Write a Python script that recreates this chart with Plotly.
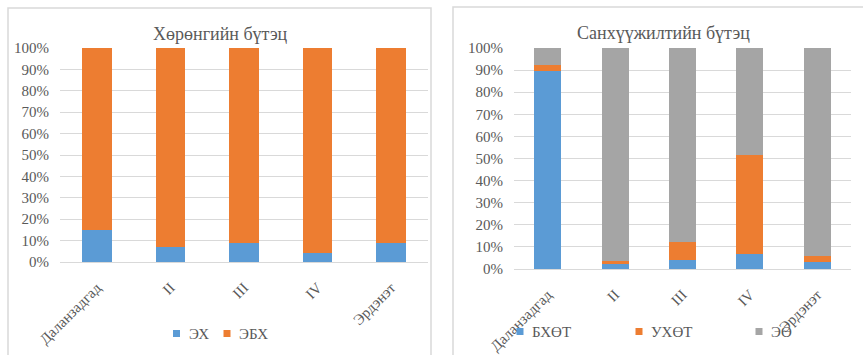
import plotly.graph_objects as go

W, H = 863, 355

categories = ["Даланзадгад", "II", "III", "IV", "Эрдэнэт"]

# Left chart: Хөрөнгийн бүтэц (shares)
left_names = ["ЭХ", "ЭБХ"]
eh = [0.148, 0.070, 0.087, 0.044, 0.090]
ebh = [0.852, 0.930, 0.913, 0.956, 0.910]

# Right chart: Санхүүжилтийн бүтэц (shares)
right_names = ["БХӨТ", "УХӨТ", "ЭӨ"]
bhot = [0.896, 0.024, 0.041, 0.070, 0.032]
uhot = [0.027, 0.012, 0.080, 0.446, 0.029]
eo = [0.077, 0.964, 0.879, 0.484, 0.939]

BLUE, ORANGE, GRAY = "#5B9BD5", "#ED7D31", "#A5A5A5"
FONT = "Liberation Serif"
TXT = "#595959"
GRID = "#D9D9D9"


def px(x):
    return x / W


def py(y):
    return 1 - y / H


fig = go.Figure()

for vals, name, col in [(eh, left_names[0], BLUE), (ebh, left_names[1], ORANGE)]:
    fig.add_trace(go.Bar(x=categories, y=vals, name=name, marker_color=col,
                         marker_line_width=0, xaxis="x", yaxis="y", showlegend=False))

for vals, name, col in [(bhot, right_names[0], BLUE), (uhot, right_names[1], ORANGE),
                        (eo, right_names[2], GRAY)]:
    fig.add_trace(go.Bar(x=categories, y=vals, name=name, marker_color=col,
                         marker_line_width=0, xaxis="x2", yaxis="y2", showlegend=False))

yax = dict(range=[0, 1.0001], dtick=0.1, tickformat=".0%", showgrid=True,
           gridcolor=GRID, gridwidth=1, zeroline=False, showline=False,
           tickfont=dict(family=FONT, size=15, color=TXT), ticklabelstandoff=10,
           automargin=False, fixedrange=True)
xax = dict(tickangle=-45, showgrid=False, showline=True, linecolor=GRID,
           linewidth=1, tickfont=dict(family=FONT, size=15, color=TXT),
           ticks="", ticklabelstandoff=10, automargin=False, fixedrange=True)

shapes = [
    dict(type="rect", xref="paper", yref="paper", x0=px(8), x1=px(431),
         y0=py(360), y1=py(8), line=dict(color=GRID, width=1.5), layer="below"),
    dict(type="rect", xref="paper", yref="paper", x0=px(453), x1=px(870),
         y0=py(360), y1=py(7), line=dict(color=GRID, width=1.5), layer="below"),
]
annotations = [
    dict(text="Хөрөнгийн бүтэц", x=px(220), y=py(34), xref="paper", yref="paper",
         showarrow=False, font=dict(family=FONT, size=18, color=TXT),
         xanchor="center", yanchor="middle"),
    dict(text="Санхүүжилтийн бүтэц", x=px(663), y=py(33), xref="paper", yref="paper",
         showarrow=False, font=dict(family=FONT, size=18, color=TXT),
         xanchor="center", yanchor="middle"),
]

# legend entries (square swatch + label)
legend_items = [
    (left_names[0], BLUE, 176.5, 333.5),
    (left_names[1], ORANGE, 227, 333.5),
    (right_names[0], BLUE, 520, 331.5),
    (right_names[1], ORANGE, 639, 331.5),
    (right_names[2], GRAY, 759, 331.5),
]
for name, col, cx, cy in legend_items:
    s = 3.5
    shapes.append(dict(type="rect", xref="paper", yref="paper",
                       x0=px(cx - s), x1=px(cx + s), y0=py(cy + s), y1=py(cy - s),
                       fillcolor=col, line=dict(width=0)))
    annotations.append(dict(text=name, x=px(cx + 10), y=py(cy), xref="paper", yref="paper",
                            showarrow=False, xanchor="left", yanchor="middle",
                            font=dict(family=FONT, size=15, color=TXT)))

fig.update_layout(
    width=W, height=H,
    margin=dict(l=0, r=0, t=0, b=0),
    paper_bgcolor="white", plot_bgcolor="white",
    barmode="stack", bargap=0.6,
    font=dict(family=FONT, color=TXT, size=15),
    xaxis=dict(domain=[px(60), px(428)], anchor="y", **xax),
    yaxis=dict(domain=[py(262), py(48)], anchor="x", **yax),
    xaxis2=dict(domain=[px(514), px(851)], anchor="y2", **xax),
    yaxis2=dict(domain=[py(269), py(48)], anchor="x2", **yax),
    showlegend=False,
    shapes=shapes,
    annotations=annotations,
)

fig.write_html("out.html")
